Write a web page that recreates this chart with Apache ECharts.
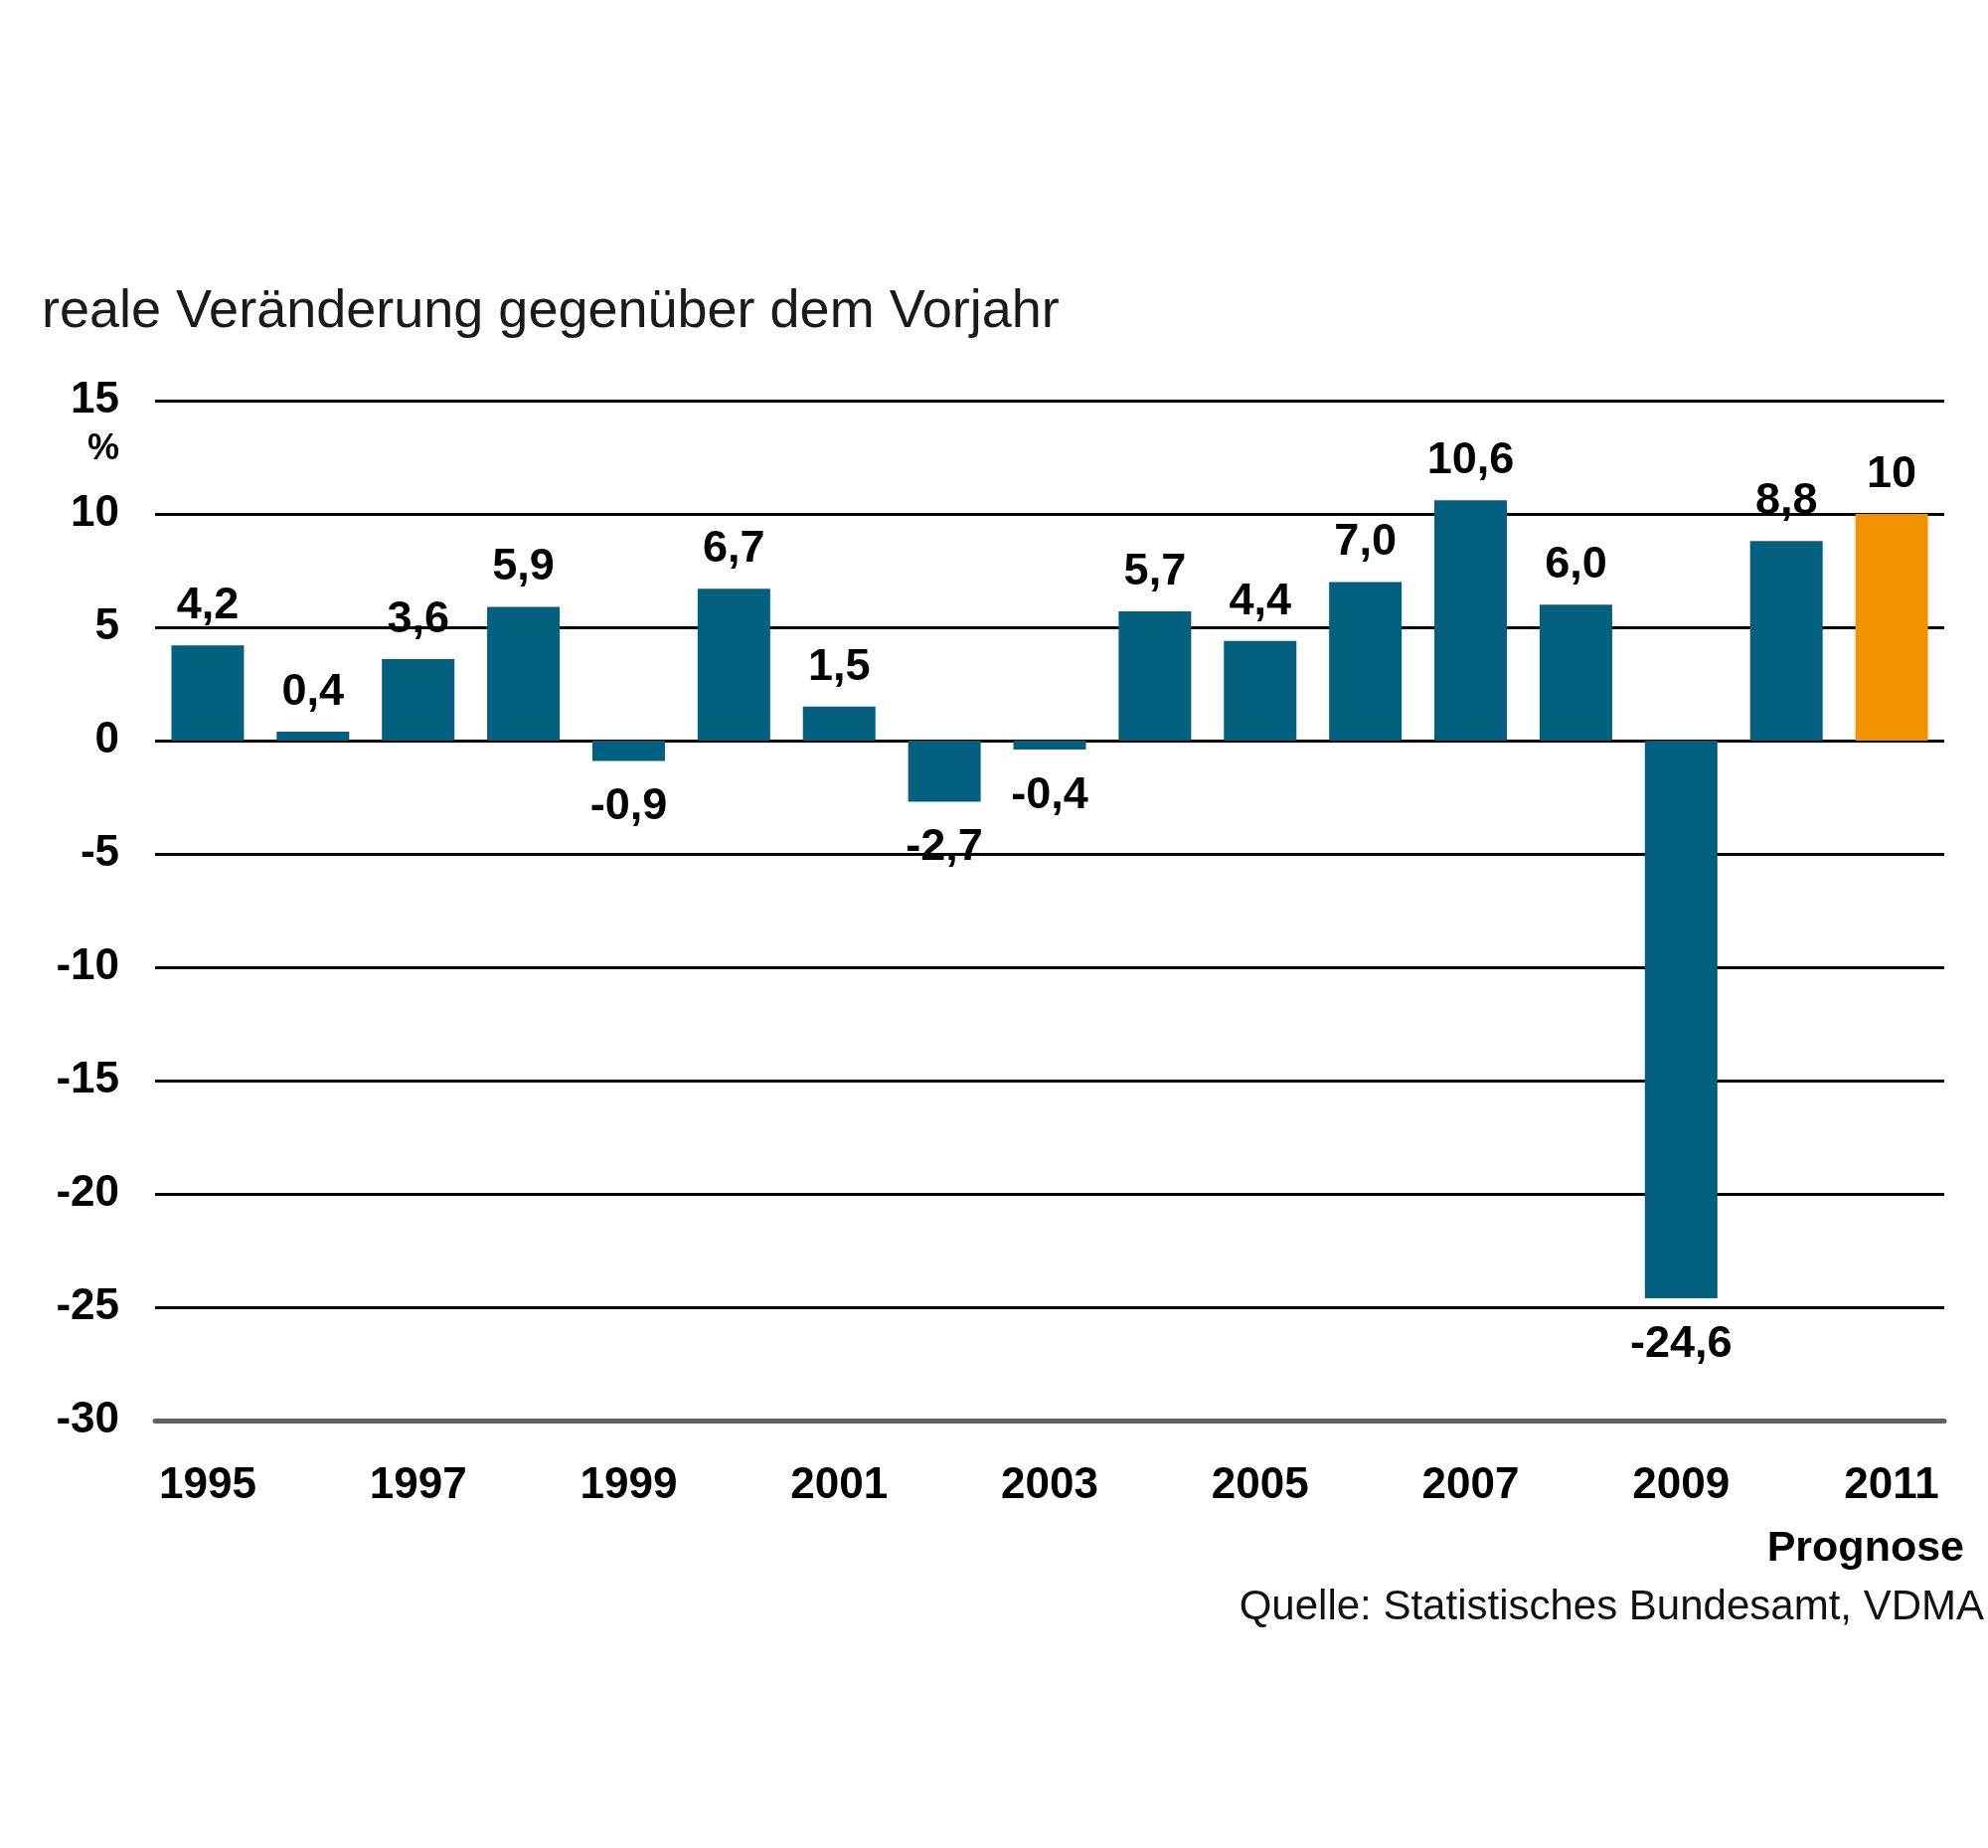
<!DOCTYPE html>
<html>
<head>
    <meta charset="utf-8">
    <title>Maschinenbau Produktion</title>
    <script src="https://cdn.jsdelivr.net/npm/echarts@6/dist/echarts.min.js"></script>
    <style>
        html, body { margin: 0; padding: 0; background: #fff; }
    </style>
</head>
<body>
    <div id="main" style="width: 2000px;height:1859px;"></div>
    <script type="text/javascript">
        // Daten
        var years = ['1995', '1996', '1997', '1998', '1999', '2000', '2001', '2002', '2003',
                     '2004', '2005', '2006', '2007', '2008', '2009', '2010', '2011'];
        var changes = [4.2, 0.4, 3.6, 5.9, -0.9, 6.7, 1.5, -2.7, -0.4,
                       5.7, 4.4, 7.0, 10.6, 6.0, -24.6, 8.8, 10];
        var forecastIndex = 16;  // 2011 = Prognose
        var yTicks = [-30, -25, -20, -15, -10, -5, 0, 5, 10, 15];

        var blue = '#03617f';
        var orange = '#f39200';
        var font = "'Liberation Sans', Arial, sans-serif";

        var barData = changes.map(function (v, i) {
            return {
                value: v,
                itemStyle: { color: i === forecastIndex ? orange : blue },
                label: { position: v < 0 ? 'bottom' : 'top', distance: v < 0 ? 24 : 17 }
            };
        });

        var myChart = echarts.init(document.getElementById('main'));
        myChart.setOption({
            animation: false,
            backgroundColor: '#fff',
            textStyle: { fontFamily: font },
            grid: { left: 156, right: 44, top: 403, bottom: 430 },
            xAxis: {
                type: 'category',
                data: years,
                axisLine: { onZero: false, lineStyle: { color: '#606060', width: 5 } },
                axisTick: { show: false },
                axisLabel: {
                    interval: 1,
                    margin: 44,
                    color: '#000',
                    fontWeight: 'bold',
                    fontSize: 44,
                    fontFamily: font
                }
            },
            yAxis: {
                type: 'value',
                min: yTicks[0],
                max: yTicks[yTicks.length - 1],
                interval: 5,
                axisLine: { show: false },
                axisTick: { show: false },
                axisLabel: {
                    margin: 36,
                    color: '#000',
                    fontWeight: 'bold',
                    fontSize: 44,
                    fontFamily: font
                },
                splitLine: { lineStyle: { color: '#000', width: 3 } }
            },
            series: [{
                type: 'bar',
                data: barData,
                barWidth: 73,
                label: {
                    show: true,
                    color: '#000',
                    fontWeight: 'bold',
                    fontSize: 45,
                    fontFamily: font,
                    formatter: function (p) {
                        if (p.dataIndex === forecastIndex) return String(p.value);
                        return p.value.toFixed(1).replace('.', ',');
                    }
                }
            }],
            graphic: [
                {
                    type: 'text', left: 42, top: 287,
                    style: { text: 'reale Veränderung gegenüber dem Vorjahr', fontSize: 54, fill: '#1a1a1a', fontFamily: font }
                },
                {
                    type: 'text', left: 88, top: 434,
                    style: { text: '%', fontSize: 36, fontWeight: 'bold', fill: '#000', fontFamily: font }
                },
                {
                    type: 'text', right: 24, top: 1537,
                    style: { text: 'Prognose', fontSize: 43, fontWeight: 'bold', fill: '#000', fontFamily: font }
                },
                {
                    type: 'text', right: 4, top: 1596,
                    style: { text: 'Quelle: Statistisches Bundesamt, VDMA', fontSize: 42, fill: '#111', fontFamily: font }
                }
            ]
        });
    </script>
</body>
</html>
